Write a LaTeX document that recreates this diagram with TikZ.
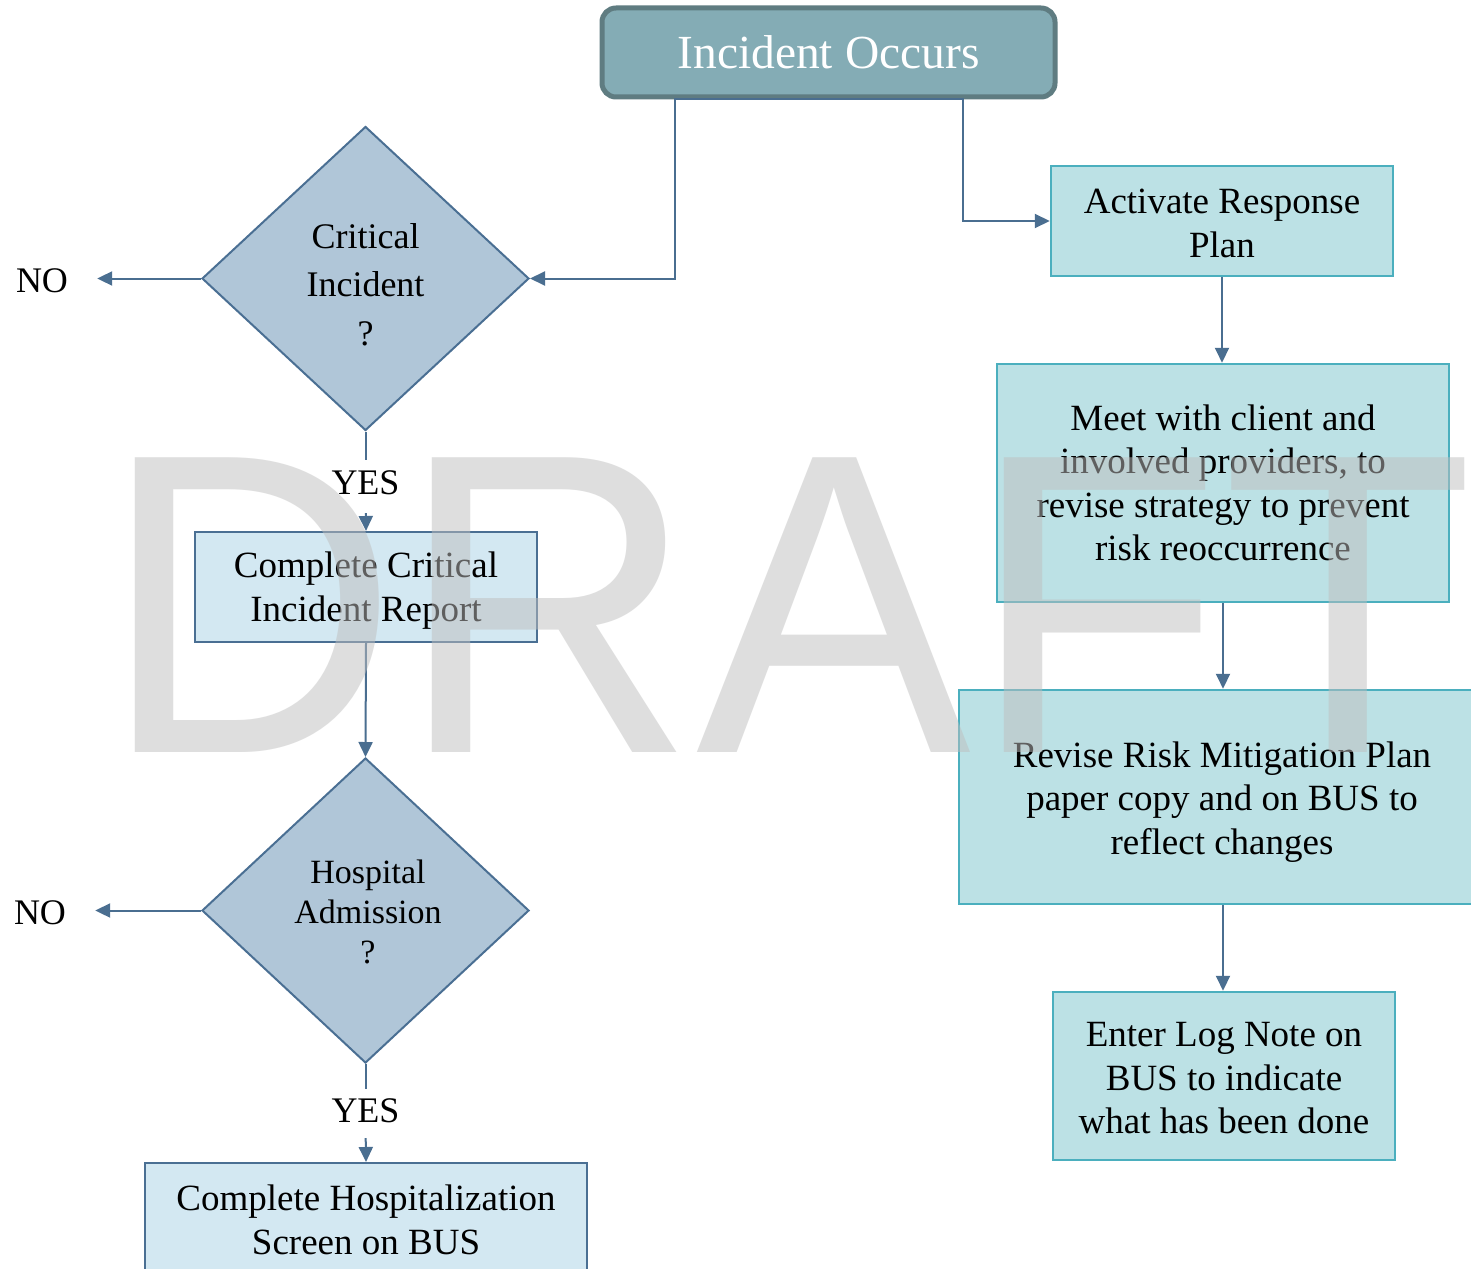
\documentclass[tikz,border=0pt]{standalone}
\usepackage{fontspec}
\setmainfont{Liberation Serif}
\newfontfamily\wmfont{Liberation Sans}
\usetikzlibrary{arrows.meta,shapes.geometric}
\definecolor{incfill}{HTML}{84ACB5}
\definecolor{incdraw}{HTML}{5F7C81}
\definecolor{dfill}{HTML}{B0C6D8}
\definecolor{ddraw}{HTML}{4A6F93}
\definecolor{lbfill}{HTML}{D3E8F2}
\definecolor{tfill}{HTML}{BCE1E5}
\definecolor{tdraw}{HTML}{4BAFBE}
\definecolor{conncol}{HTML}{4A6E90}
\definecolor{wmgray}{RGB}{190,190,190}
\begin{document}
\begin{tikzpicture}[x=1pt,y=-1pt,
  txt/.style={font=\fontsize{37}{43.5}\selectfont, align=center, inner sep=0pt},
  incbox/.style={draw=incdraw, line width=5pt, fill=incfill, rounded corners=14pt, inner sep=0pt,
     text=white, font=\fontsize{47.5}{52}\selectfont},
  dec/.style={diamond, draw=ddraw, fill=dfill, line width=2pt, inner sep=0pt, aspect=1},
  lbbox/.style={rectangle, draw=ddraw, fill=lbfill, line width=2pt, inner sep=0pt, txt},
  tbox/.style={rectangle, draw=tdraw, fill=tfill, line width=2.5pt, inner sep=0pt, txt},
  conn/.style={draw=conncol, line width=2pt},
  arr/.style={conn, -{Triangle[length=15pt,width=14pt]}},
  lbl/.style={font=\fontsize{36}{40}\selectfont, inner sep=0pt, text height=24pt, text depth=0pt}
]
\clip (0,0) rectangle (1471,1268);
\fill[white] (0,0) rectangle (1471,1268);

% nodes
\node[incbox, minimum width=453pt, minimum height=89pt] (inc) at (828.5,52.5) {Incident Occurs};

\node[dec, minimum width=327pt, minimum height=304pt] (d1) at (365.5,278.5) {};
\node[txt, font=\fontsize{36}{48.5}\selectfont] (d1t) at (365.5,284.5) {Critical\\Incident\\?};

\node[lbbox, minimum width=342pt, minimum height=110pt] (ccr) at (366,587) {\rule{0pt}{33pt}Complete Critical\\Incident Report};

\node[dec, minimum width=327pt, minimum height=305pt] (d2) at (365.5,910.5) {};
\node[txt, font=\fontsize{34}{40}\selectfont] (d2t) at (368,912) {Hospital\\Admission\\?};

\node[lbbox, minimum width=442pt, minimum height=114pt] (chs) at (366,1220) {Complete Hospitalization\\Screen on BUS};

\node[lbl] (no1) at (42,280) {NO};
\node[lbl] (no2) at (40,912) {NO};
\node[lbl] (yes1) at (365.5,482.5) {YES};
\node[lbl] (yes2) at (365.5,1110) {YES};

\node[tbox, minimum width=342pt, minimum height=110pt] (arp) at (1222,221) {\rule{0pt}{29pt}Activate Response\\Plan};
\node[tbox, minimum width=452pt, minimum height=238pt] (meet) at (1223,483) {Meet with client and\\involved providers, to\\revise strategy to prevent\\risk reoccurrence};
\node[tbox, minimum width=526pt, minimum height=214pt] (rev) at (1222,797) {\rule{0pt}{35pt}Revise Risk Mitigation Plan\\paper copy and on BUS to\\reflect changes};
\node[tbox, minimum width=342pt, minimum height=168pt] (log) at (1224,1076) {\rule{0pt}{29pt}Enter Log Note on\\BUS to indicate\\what has been done};

% connectors
\draw[arr] (inc.south) -- ++(-154,0) |- (d1.east);
\draw[arr] (inc.south) -- ++(134,0) |- (arp.west);
\draw[arr, shorten >=29pt] (d1.west) -- (d1.west -| no1.east);
\draw[arr, shorten >=29pt] (d2.west) -- (d2.west -| no2.east);
\draw[conn, shorten >=22.5pt] (d1.south) -- (yes1.center);
\draw[arr, shorten <=18.5pt] (yes1.south) -- (ccr.north);
\draw[arr] (ccr.south) -- (d2.north);
\draw[conn, shorten >=21pt] (d2.south) -- (yes2.center);
\draw[arr, shorten <=16pt] (yes2.south) -- (chs.north);
\draw[arr] (arp.south) -- (arp.south |- meet.north);
\draw[arr] (meet.south) -- (meet.south |- rev.north);
\draw[arr] (rev.south -| meet.south) -- (meet.south |- log.north);

% watermark
\node[anchor=base west, inner sep=0pt, text=wmgray, text opacity=0.5,
      font=\wmfont\fontsize{412}{412}\selectfont] (wm) at (101,752) {\scalebox{1}[1.04]{DRAFT}};
\end{tikzpicture}
\end{document}
